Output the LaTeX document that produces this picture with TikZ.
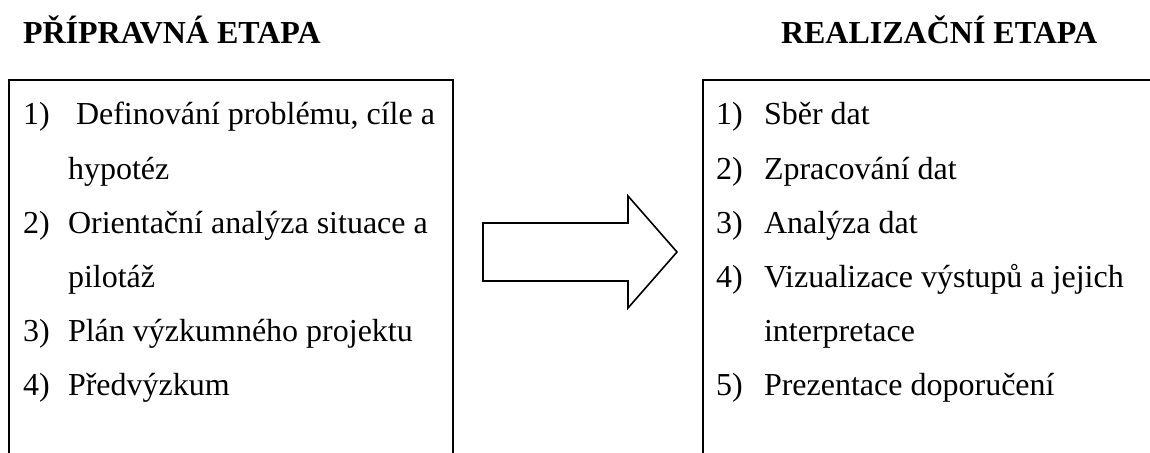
\documentclass[tikz,border=0pt]{standalone}
\usepackage{fontspec}
\setmainfont{Liberation Serif}

\begin{document}
\begin{tikzpicture}[x=0.375pt, y=-0.375pt, line width=0.75pt, line join=miter]
\tikzset{heading/.style={anchor=base west,inner sep=0,font=\fontsize{12}{14}\selectfont\bfseries}}
\tikzset{item/.style={anchor=base west,inner sep=0,font=\fontsize{12}{14}\selectfont}}

\useasboundingbox (0,0) rectangle (1150,453);

% stage headings
\node[heading] (hprep) at (22,43) {PŘÍPRAVNÁ ETAPA};
\node[heading] (hreal) at (780,43) {REALIZAČNÍ ETAPA};

% boxes - cut off at the bottom of the page
\draw (9,460) -- (9,80) -- (453,80) -- (453,460);
\draw (703,460) -- (703,80) -- (1160,80);

% left box items
\node[item] (p1) at (22,125) {1)};
\node[item] (p1a) at (75,125) {Definování problému, cíle a};
\node[item] (p1b) at (67,179) {hypotéz};
\node[item] (p2) at (22,233) {2)};
\node[item] (p2a) at (67,233) {Orientační analýza situace a};
\node[item] (p2b) at (67,287) {pilotáž};
\node[item] (p3) at (22,341) {3)};
\node[item] (p3a) at (67,341) {Plán výzkumného projektu};
\node[item] (p4) at (22,395) {4)};
\node[item] (p4a) at (67,395) {Předvýzkum};

% right box items
\node[item] (r1) at (715,125) {1)};
\node[item] (r1a) at (763,125) {Sběr dat};
\node[item] (r2) at (715,179) {2)};
\node[item] (r2a) at (763,179) {Zpracování dat};
\node[item] (r3) at (715,233) {3)};
\node[item] (r3a) at (763,233) {Analýza dat};
\node[item] (r4) at (715,287) {4)};
\node[item] (r4a) at (763,287) {Vizualizace výstupů a jejich};
\node[item] (r4b) at (763,341) {interpretace};
\node[item] (r5) at (715,395) {5)};
\node[item] (r5a) at (763,395) {Prezentace doporučení};

% block arrow between the stages
\coordinate (tail) at (483,252);
\coordinate (tip) at (677,252);
\draw[line width=0.6pt] (tail) ++(0,-29) -- (628,223) -- (628,196) -- (tip)
  -- (628,308) -- (628,281) -- (483,281) -- cycle;

\end{tikzpicture}
\end{document}
